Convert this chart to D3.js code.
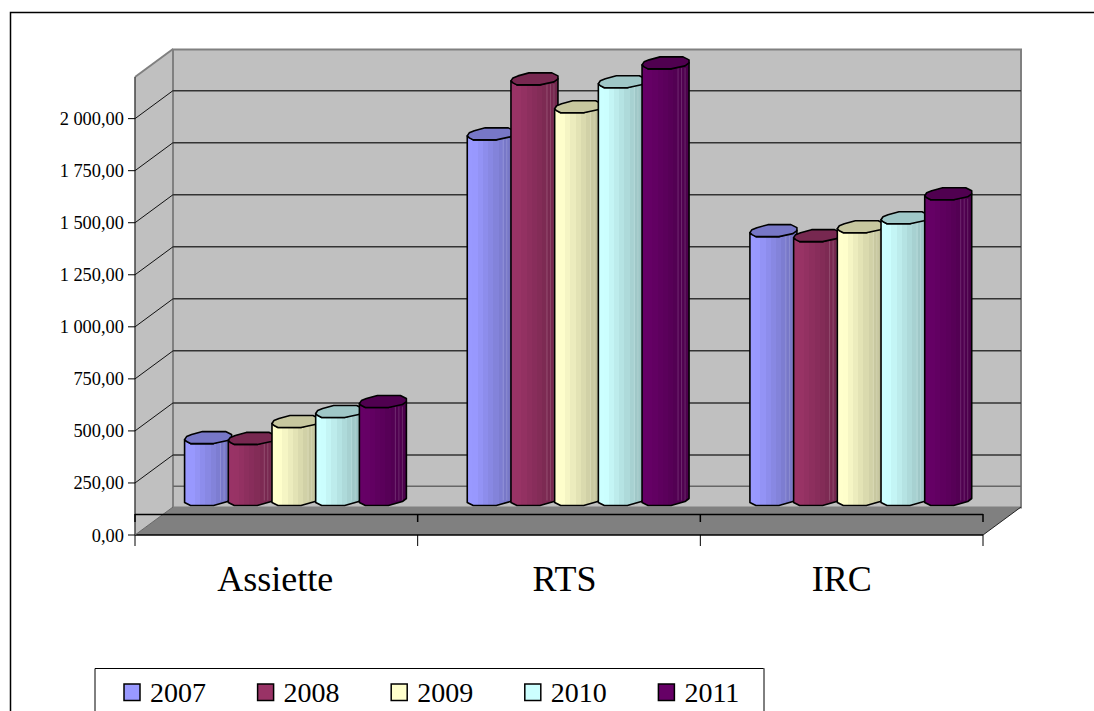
<!DOCTYPE html>
<html>
<head>
<meta charset="utf-8">
<script src="https://cdnjs.cloudflare.com/ajax/libs/d3/7.8.5/d3.min.js"></script>
<style>html,body{margin:0;padding:0;background:#fff;overflow:hidden}svg{display:block}text{font-family:"Liberation Serif",serif;fill:#000}</style>
</head>
<body>
<svg id="c" width="1094" height="711"></svg>
<script>
const categories = ["Assiette", "RTS", "IRC"];
const years = ["2007", "2008", "2009", "2010", "2011"];
const values2007 = [307, 1766, 1301];
const values2008 = [303, 2030, 1277];
const values2009 = [384, 1896, 1320];
const values2010 = [432, 2016, 1363];
const values2011 = [480, 2107, 1478];
const seriesValues = [values2007, values2008, values2009, values2010, values2011];
const colors = ["#9999FF", "#993366", "#FFFFCC", "#CCFFFF", "#660066"];
const tickValues = [0, 250, 500, 750, 1000, 1250, 1500, 1750, 2000];

const svg = d3.select("#c");
const W = 1094, H = 711;
const depthX = 38, depthY = -28;
const leftX = 135, rightX = 983;
const y = d3.scaleLinear().domain([0, 2200]).range([535, 77]);
const x = d3.scaleBand().domain(categories).range([leftX, rightX]);
const barW = 43.7;
const groupW = barW * years.length;
const xs = d3.scaleBand().domain(years).range([0, groupW]);
const barShift = 17.5;        // bars stand towards the back of the floor
const baseY = 505.5;          // front edge of bar bases on screen
const valY = v => y(v) - (y(0) - baseY);
const labelNudge = [-1, 5.5, 0];

const fmt = d3.formatLocale({decimal: ",", thousands: " ", grouping: [3], currency: ["", ""]}).format(",.2f");
const line = d3.line();

// outer frame (right and bottom are cut off in the reference)
svg.append("path").attr("d", `M10.5,${H} V12.5 H${W}`).attr("fill", "none").attr("stroke", "#000").attr("stroke-width", 1.5);

// walls
const maxV = y.domain()[1];
const wallStroke = "#808080";
svg.append("path").attr("d", line([[leftX, y(maxV)], [leftX + depthX, y(maxV) + depthY], [leftX + depthX, y(0) + depthY], [leftX, y(0)]]) + "Z")
  .attr("fill", "#C0C0C0").attr("stroke", "none");
svg.append("rect").attr("x", leftX + depthX).attr("y", y(maxV) + depthY + 0.5)
  .attr("width", rightX - leftX).attr("height", y(0) - y(maxV))
  .attr("fill", "#C0C0C0").attr("stroke", wallStroke).attr("stroke-width", 2);
svg.append("path").attr("d", line([[leftX, y(maxV)], [leftX + depthX, y(maxV) + depthY]])).attr("stroke", wallStroke).attr("stroke-width", 2).attr("fill", "none");
svg.append("line").attr("x1", leftX).attr("x2", leftX).attr("y1", y(maxV)).attr("y2", y(0)).attr("stroke", "#444").attr("stroke-width", 1.5);

// gridlines
tickValues.filter(d => d > 0).forEach(d => {
  svg.append("line").attr("x1", leftX + depthX).attr("x2", rightX + depthX).attr("y1", y(d) + depthY).attr("y2", y(d) + depthY)
    .attr("stroke", "#333").attr("stroke-width", 1.5);
  svg.append("line").attr("x1", leftX).attr("x2", leftX + depthX).attr("y1", y(d)).attr("y2", y(d) + depthY)
    .attr("stroke", "#111").attr("stroke-width", 1);
});
// extra low line visible on the back wall
svg.append("line").attr("x1", leftX + depthX).attr("x2", rightX + depthX).attr("y1", y(100) + depthY).attr("y2", y(100) + depthY)
  .attr("stroke", "#666").attr("stroke-width", 1.5);

// floor
svg.append("path").attr("d", line([[leftX, y(0)], [leftX + depthX, y(0) + depthY], [rightX + depthX, y(0) + depthY], [rightX, y(0)]]) + "Z")
  .attr("fill", "#808080");
svg.append("line").attr("x1", leftX).attr("x2", rightX).attr("y1", y(0)).attr("y2", y(0)).attr("stroke", "#000").attr("stroke-width", 1.5);
svg.append("line").attr("x1", rightX).attr("x2", rightX + depthX).attr("y1", y(0)).attr("y2", y(0) + depthY).attr("stroke", "#222").attr("stroke-width", 1);
svg.append("line").attr("x1", leftX).attr("x2", leftX + depthX).attr("y1", y(0)).attr("y2", y(0) + depthY).attr("stroke", "#666").attr("stroke-width", 1);
svg.append("line").attr("x1", leftX).attr("x2", rightX).attr("y1", 514.5).attr("y2", 514.5).attr("stroke", "#000").attr("stroke-width", 1.5);

// value axis labels and ticks
tickValues.forEach(d => {
  svg.append("line").attr("x1", 128).attr("x2", leftX).attr("y1", y(d)).attr("y2", y(d)).attr("stroke", "#000").attr("stroke-width", 1);
  svg.append("text").attr("x", 124).attr("y", y(d) + 6.5).attr("text-anchor", "end").attr("font-size", 18.4).text(fmt(d));
});

// category ticks
const catEdges = categories.map(c => x(c)).concat([rightX]);
catEdges.forEach(e => {
  svg.append("line").attr("x1", e).attr("x2", e).attr("y1", y(0)).attr("y2", 546).attr("stroke", "#000").attr("stroke-width", 1);
  svg.append("line").attr("x1", e).attr("x2", e).attr("y1", 514).attr("y2", 522).attr("stroke", "#000").attr("stroke-width", 1.5);
});
categories.forEach((c, i) => {
  svg.append("text").attr("x", x(c) + x.bandwidth() / 2 + labelNudge[i]).attr("y", 591)
    .attr("text-anchor", "middle").attr("font-size", 36).text(c);
});

// gradients for faceted bars
const defs = svg.append("defs");
const capColor = c => d3.interpolateRgb(c, "#000")(0.22);
years.forEach((yr, i) => {
  const g = defs.append("linearGradient").attr("id", "g" + yr).attr("x1", 0).attr("x2", 1).attr("y1", 0).attr("y2", 0);
  const n = 9;
  const amt = d3.scaleLinear().domain([0, 0.15, 1]).range([0, 0, 0.27]);
  d3.range(n).forEach(k => {
    const col = d3.interpolateRgb(colors[i], "#000")(amt((k + 0.5) / n));
    g.append("stop").attr("offset", k / n).attr("stop-color", col);
    g.append("stop").attr("offset", (k + 1) / n).attr("stop-color", col);
  });
});

// bars: low-poly cylinder profile
categories.forEach((cat, ci) => {
  const gx = x(cat) + x.bandwidth() / 2 - groupW / 2 + barShift;
  years.forEach((yr, si) => {
    const x0 = gx + xs(yr);
    const t = valY(seriesValues[si][ci]);
    const g = svg.append("g").attr("transform", `translate(${x0},0)`);
    const w = 47;
    const body = [[0, t - 2], [0, baseY - 3], [6, baseY], [29, baseY], [43, baseY - 4], [w, baseY - 7], [w, t - 4], [29, t + 2], [6, t + 2]];
    g.append("path").attr("d", line(body) + "Z").attr("fill", `url(#g${yr})`).attr("stroke", "#000").attr("stroke-width", 1.6).attr("stroke-linejoin", "round");
    [36, 39.5, 43].forEach(fx => {
      g.append("line").attr("x1", fx).attr("x2", fx).attr("y1", t + 1).attr("y2", baseY - 5)
        .attr("stroke", "#fff").attr("stroke-opacity", 0.16).attr("stroke-width", 1);
    });
    const cap = [[0, t - 2], [2, t - 5], [7, t - 7], [18, t - 10], [41, t - 10], [w, t - 7], [w, t - 4], [43, t - 1], [29, t + 2], [6, t + 2], [2, t]];
    g.append("path").attr("d", line(cap) + "Z").attr("fill", capColor(colors[si])).attr("stroke", "#000").attr("stroke-width", 1.6).attr("stroke-linejoin", "round");
  });
});

// legend
svg.append("path").attr("d", `M95,${H} V668.5 H764 V${H}`).attr("fill", "#fff").attr("stroke", "#000").attr("stroke-width", 1);
svg.append("line").attr("x1", 764).attr("x2", 764).attr("y1", 668).attr("y2", H).attr("stroke", "#808080").attr("stroke-width", 1);
const lx = d3.scaleBand().domain(years).range([124, 124 + 133.6 * years.length]);
years.forEach((yr, i) => {
  svg.append("rect").attr("x", lx(yr)).attr("y", 684).attr("width", 16).attr("height", 16.5)
    .attr("fill", colors[i]).attr("stroke", "#000").attr("stroke-width", 1.5);
  svg.append("text").attr("x", lx(yr) + 26).attr("y", 702).attr("font-size", 28).text(yr);
});
</script>
</body>
</html>
